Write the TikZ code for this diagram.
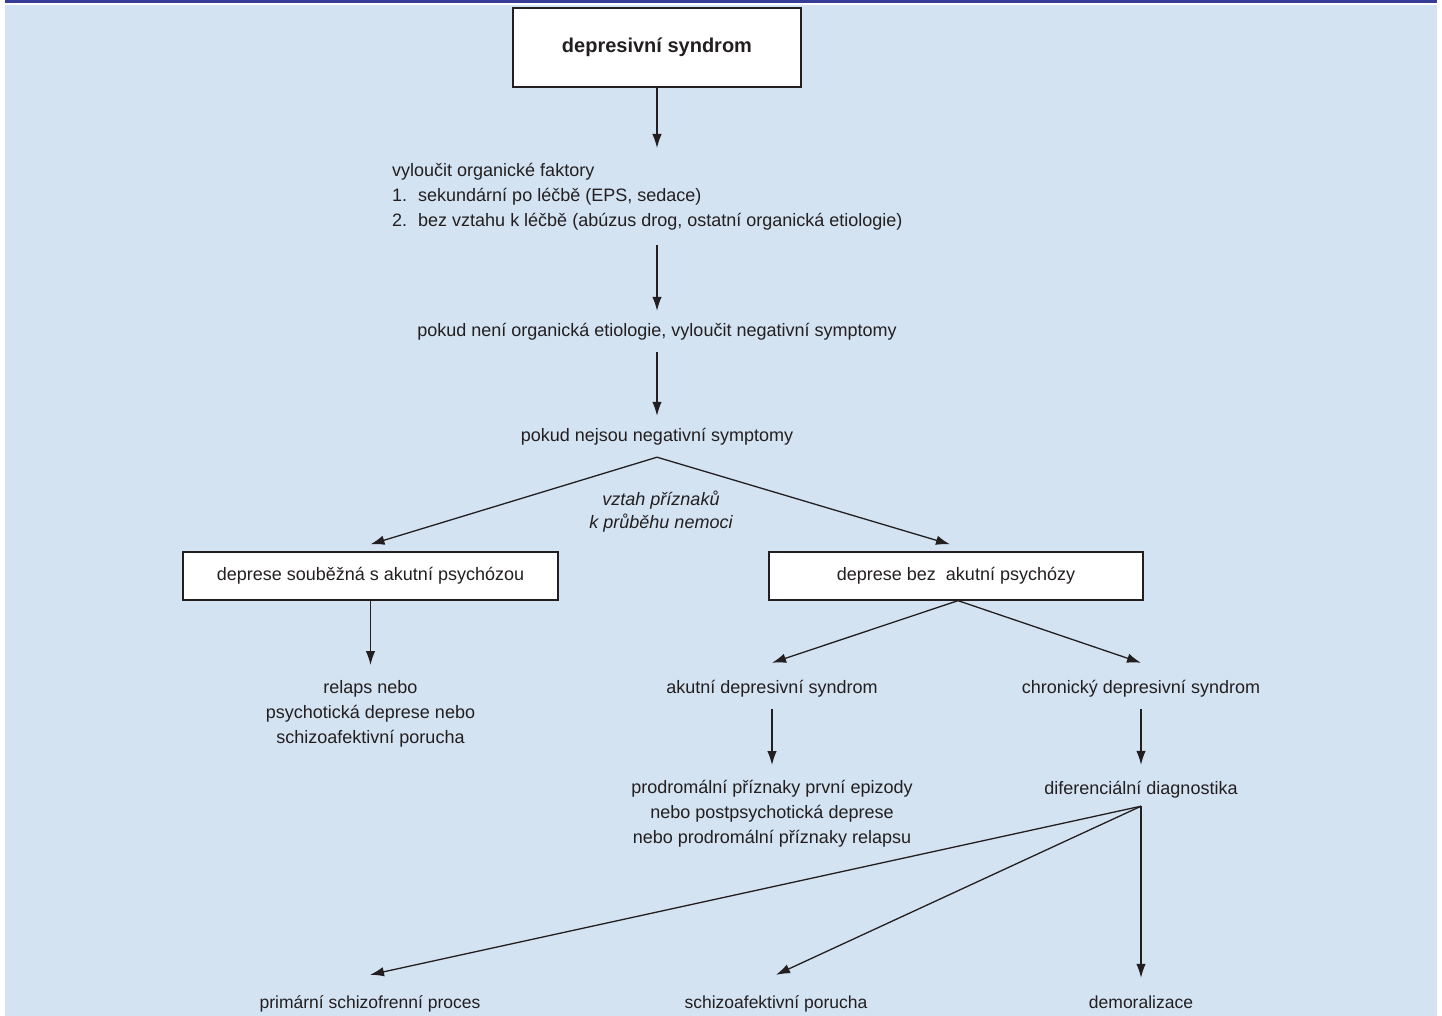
\documentclass[tikz,border=0pt]{standalone}
\usepackage{fontspec}
\setmainfont{Liberation Sans}
\usetikzlibrary{arrows.meta,calc}
\definecolor{bgblue}{RGB}{211,227,242}
\definecolor{barblue}{RGB}{55,60,150}
\definecolor{ink}{RGB}{35,31,32}
\begin{document}
\begin{tikzpicture}[x=1pt,y=-1pt,
  txt/.style={font=\fontsize{18}{25}\selectfont, text=ink},
  box/.style={draw=ink, line width=1.3pt, fill=white, txt},
  lbl/.style={txt, inner xsep=0pt, inner ysep=12pt, text height=13pt, text depth=4pt},
  multi/.style={txt, align=center, inner xsep=0pt, inner ysep=15pt},
  arr/.style={draw=ink, line width=1.3pt, -{Latex[length=14pt,width=9.5pt]}}]
\useasboundingbox (0,0) rectangle (1442,1016);
\fill[white] (0,0) rectangle (1442,1016);
\fill[barblue] (5,0) rectangle (1437,3.3);
\fill[bgblue] (5,5) rectangle (1437,1016);

\node[box, minimum width=288pt, minimum height=79pt, font=\fontsize{20}{24}\selectfont\bfseries] (top) at (657,47.5) {depresivní syndrom};

\node[txt, align=left, anchor=north west, inner xsep=0pt, inner ysep=15pt] (org) at (392,148)
  {vyloučit organické faktory\\\makebox[26pt][l]{1.}sekundární po léčbě (EPS, sedace)\\\makebox[26pt][l]{2.}bez vztahu k léčbě (abúzus drog, ostatní organická etiologie)};
\draw[arr] (top.south) -- (top.south |- org.north);

\node[lbl] (neg) at (657,331.5) {pokud není organická etiologie, vyloučit negativní symptomy};
\draw[arr] (top.south |- org.south) -- (neg.north);

\node[lbl] (neg2) at (657,436.5) {pokud nejsou negativní symptomy};
\draw[arr] (neg.south) -- (neg2.north);

\node[txt, font=\fontsize{18}{23}\selectfont\itshape, align=center] (rel) at (661,512) {vztah příznaků\\k průběhu nemoci};

\node[box, minimum width=375pt, minimum height=48pt] (lbox) at (370.5,576) {deprese souběžná s akutní psychózou};
\node[box, minimum width=374pt, minimum height=48pt] (rbox) at (956,576) {deprese bez\ \ akutní psychózy};
\draw[arr] (neg2.south) -- ([yshift=7pt]lbox.north);
\draw[arr] (neg2.south) -- ([xshift=-6pt,yshift=7pt]rbox.north);

\node[multi, anchor=north] (relaps) at (370.5,665) {relaps nebo\\psychotická deprese nebo\\schizoafektivní porucha};
\draw[arr] (lbox.south) -- (relaps.north);

\node[lbl] (akut) at (772,688.5) {akutní depresivní syndrom};
\node[lbl] (chron) at (1141,688.5) {chronický depresivní syndrom};
\draw[arr] ([xshift=2pt]rbox.south) -- ([yshift=5pt]akut.north);
\draw[arr] ([xshift=2pt]rbox.south) -- ([yshift=5pt]chron.north);

\node[multi, anchor=north] (prod) at (772,765) {prodromální příznaky první epizody\\nebo postpsychotická deprese\\nebo prodromální příznaky relapsu};
\draw[arr] (akut.south) -- (prod.north);

\node[lbl] (diag) at (1141,789.5) {diferenciální diagnostika};
\draw[arr] (chron.south) -- ([yshift=4pt]diag.north);
\coordinate (dg) at ([yshift=4pt]diag.south);

\node[lbl, font=\fontsize{17.5}{25}\selectfont] (prim) at (370,1003.5) {primární schizofrenní proces};
\node[lbl, font=\fontsize{17.5}{25}\selectfont] (schz) at (776,1003.5) {schizoafektivní porucha};
\node[lbl, font=\fontsize{17.5}{25}\selectfont] (dem) at (1141,1003.5) {demoralizace};
\draw[arr] (dg) -- ([yshift=8pt]prim.north);
\draw[arr] (dg) -- ([yshift=8pt]schz.north);
\draw[arr] (dg) -- ([yshift=5pt]dem.north);
\end{tikzpicture}
\end{document}
